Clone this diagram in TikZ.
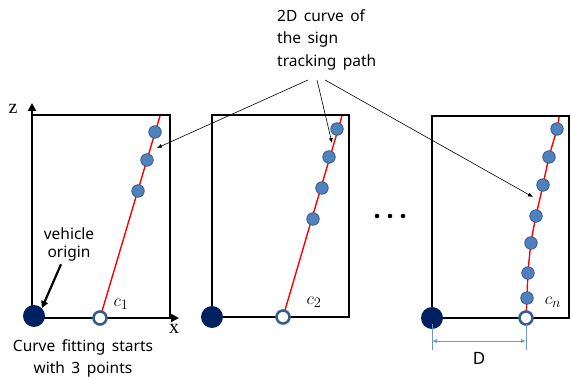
\documentclass[tikz,border=0pt]{standalone}
\usepackage{fontspec}
\setmainfont[WordSpace=1.6]{Noto Sans}
\newfontfamily\serifaxis{Liberation Serif}
\usetikzlibrary{arrows.meta,positioning,calc}
\definecolor{OriginNavy}{RGB}{0,32,96}
\definecolor{SignBlue}{RGB}{79,129,189}
\definecolor{SignEdge}{RGB}{56,93,138}
\definecolor{DimBlue}{RGB}{110,150,200}

\begin{document}
\begin{tikzpicture}[x=1pt,y=-1pt,>=Latex,
  frame/.style={line width=2.6pt,line cap=rect},
  axis/.style={line width=2.6pt,-{Triangle[length=8pt,width=8pt]}},
  fitline/.style={red,line width=1.4pt},
  origin/.style={circle,fill=OriginNavy,inner sep=0pt,minimum size=22pt},
  start/.style={circle,draw=SignEdge,line width=2.6pt,fill=white,inner sep=0pt,minimum size=13pt},
  sign/.style={circle,fill=SignBlue,draw=SignEdge,line width=0.8pt,inner sep=0pt,minimum size=12.5pt},
  leader/.style={line width=0.6pt,-{Latex[length=5pt,width=4pt]}},
  clabel/.style={font=\fontsize{19}{22}\selectfont},
  txt/.style={font=\fontsize{15.5}{#1}\selectfont}]
  \useasboundingbox (0,0) rectangle (571,379);

  % panel 1
  \draw[frame] (32,115) -- (170,115) -- (170,318);
  \draw[axis] (32,318) -- (32,103);
  \draw[axis] (32,318) -- (179,318);
  \node[font=\serifaxis\fontsize{20}{22}\selectfont] (zlab) at (13,109) {z};
  \node[font=\serifaxis\fontsize{20}{22}\selectfont] (xlab) at (174,329) {x};
  \coordinate (s1) at (100,318);
  \coordinate (t1) at (160,116);
  \draw[fitline] (s1) -- (t1);
  \node[origin] (o1) at (34,316) {};
  \node[start] (c1) at (s1) {};
  \node[sign] (d11) at (155,132) {};
  \node[sign] (d12) at (147,160) {};
  \node[sign] (d13) at (138,191) {};
  \node[clabel] (l1) at (121,304) {$c_1$};
  \node[txt=18,align=center] (veh) at (69,244) {vehicle\\origin};
  \draw[line width=2.2pt,-{Triangle[length=7pt,width=7pt]}] ([xshift=-8pt]veh.south) -- (o1.north east);
  \node[align=center,txt=22] (fit) at (83,358) {Curve fitting starts\\with 3 points};

  % panel 2
  \draw[frame] (212,317) |- (349,115) |- (212,317);
  \coordinate (s2) at (283,317);
  \coordinate (t2) at (342,116);
  \draw[fitline] (s2) -- (t2);
  \node[origin] (o2) at (212,317) {};
  \node[start] (c2) at (s2) {};
  \node[sign] (d21) at (337,129) {};
  \node[sign] (d22) at (329,157) {};
  \node[sign] (d23) at (322,188) {};
  \node[sign] (d24) at (313,219) {};
  \node[clabel] (l2) at (314,302) {$c_2$};

  \foreach \x in {377,390,403} \fill (\x,216) circle (2.3pt);

  % panel 3
  \draw[frame] (432,318) |- (569,116) |- (432,318);
  \coordinate (s3) at (526,318);
  \draw[fitline] plot[smooth] coordinates {(526,318) (527,298) (528,273) (531,243)
    (536,216) (543,185) (549,157) (557,129) (559,117)};
  \node[origin] (o3) at (432,318) {};
  \node[start] (cn) at (s3) {};
  \foreach \y/\x [count=\i] in {129/557,157/549,185/543,216/536,243/531,273/528,298/527}
    \node[sign] (d3\i) at (\x,\y) {};
  \node[clabel] (l3) at (553,302) {$c_n$};
  \draw[DimBlue,line width=0.8pt] (o3.center) ++(0,6) -- ++(0,26);
  \draw[DimBlue,line width=0.8pt] (cn.center) ++(0,6) -- ++(0,26);
  \draw[DimBlue,line width=0.9pt,{Latex[length=5pt,width=4pt]}-{Latex[length=5pt,width=4pt]}]
    (432,341) -- (526,341);
  \node[font=\fontsize{17}{20}\selectfont] (dlab) at (479,358) {D};

  % curve note
  \node[align=left,txt=22.5,anchor=north west,inner sep=0pt] (note) at (277,9) {2D curve of\\the sign\\tracking path};
  \coordinate (a1) at (157,148);
  \coordinate (a2) at (332,143);
  \coordinate (a3) at (533,197);
  \draw[leader] (308,80) -- (a1);
  \draw[leader] (317,80) -- (a2);
  \draw[leader] (325,80) -- (a3);
\end{tikzpicture}
\end{document}
